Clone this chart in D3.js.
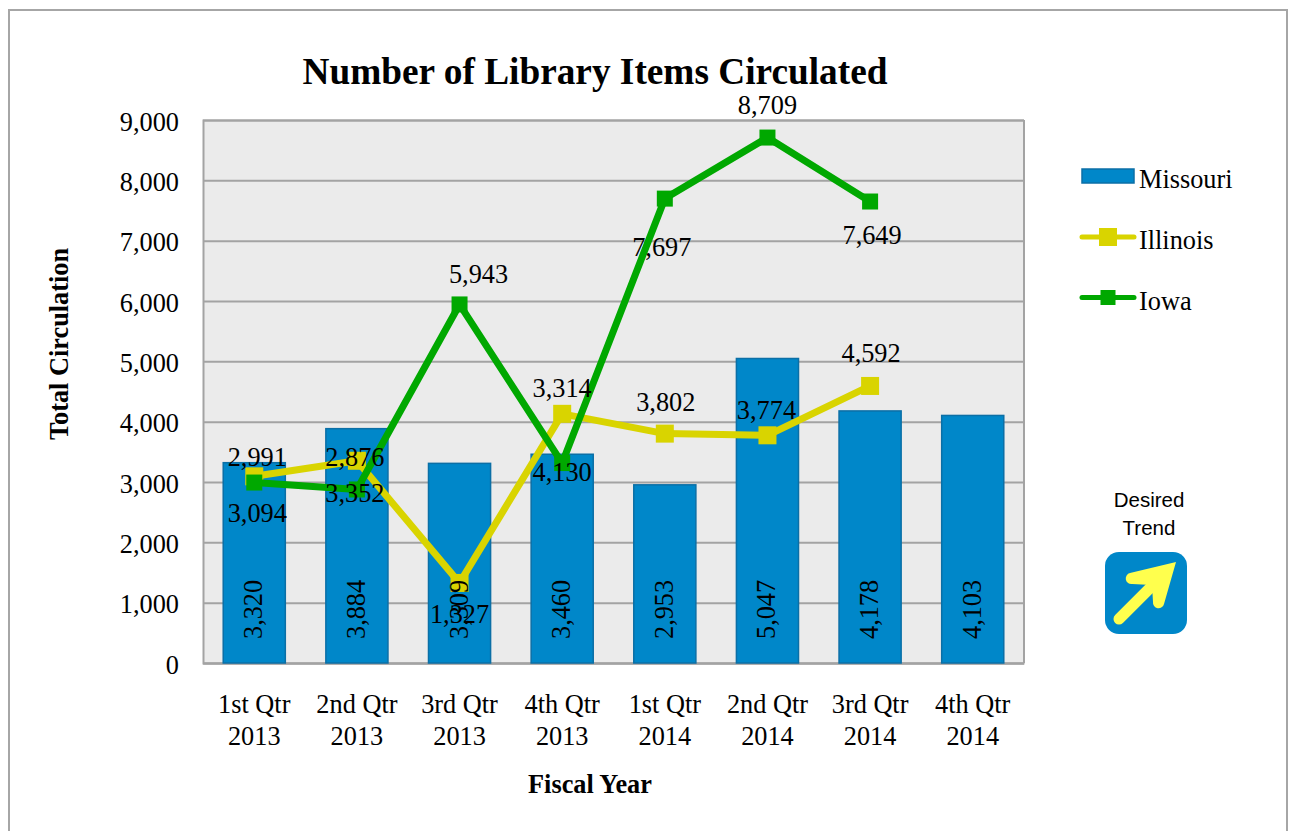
<!DOCTYPE html>
<html>
<head>
<meta charset="utf-8">
<title>Number of Library Items Circulated</title>
<script src="https://cdn.jsdelivr.net/npm/d3@7"></script>
<style>
  html, body { margin: 0; padding: 0; background: #fff; overflow: hidden; }
  svg { display: block; font-family: "Liberation Serif", serif; }
</style>
</head>
<body>
<div id="chart"></div>
<script>
// data
var quarters = ["1st Qtr 2013", "2nd Qtr 2013", "3rd Qtr 2013", "4th Qtr 2013",
                "1st Qtr 2014", "2nd Qtr 2014", "3rd Qtr 2014", "4th Qtr 2014"];
var missouri = [3320, 3884, 3309, 3460, 2953, 5047, 4178, 4103];
var illinois = [3094, 3352, 1327, 4130, 3802, 3774, 4592, null];
var iowa = [2991, 2876, 5943, 3314, 7697, 8709, 7649, null];
var yTicks = [0, 1000, 2000, 3000, 4000, 5000, 6000, 7000, 8000, 9000];

// the labels were dragged around by hand in the original, so each has its own nudge
var illinoisLabelDy = [37, 32, 31, 58, -32, -25, -33, 0];
var illinoisLabelDx = [3, -2, 0, 0, 1, -1, 1, 0];
var iowaLabelDy = [-25, -32, -30, -75, 48, -32, 34, 0];
var iowaLabelDx = [3, -2, 19, 0, -3, 0, 2, 0];

var width = 1289;
var height = 831;
var margin = { top: 120, right: 265, bottom: 168, left: 203 };
var fontSize = "26.3px";

var blue = "#0087c9";
var yellow = "#d9d400";
var green = "#00a800";
var gridGray = "#a3a3a3";
var arrowYellow = "#ffff4d";

var svg = d3.select("#chart")
  .append("svg")
  .attr("width", width)
  .attr("height", height)
  .attr("viewBox", [0, 0, width, height]);

// outer frame, bottom edge runs off the page
svg.append("rect")
  .attr("x", 9)
  .attr("y", 10)
  .attr("width", 1278)
  .attr("height", 840)
  .attr("fill", "#fff")
  .attr("stroke", "#a6a6a6")
  .attr("stroke-width", 2);

var x = d3.scaleBand()
  .domain(quarters)
  .range([margin.left, width - margin.right])
  .paddingInner(0.395)
  .paddingOuter(0.197);

var y = d3.scaleLinear()
  .domain([0, 9000])
  .range([height - margin.bottom, margin.top]);

function cx(i) { return x(quarters[i]) + x.bandwidth() / 2; }

// plot background
svg.append("rect")
  .attr("x", margin.left)
  .attr("y", margin.top)
  .attr("width", width - margin.left - margin.right)
  .attr("height", height - margin.top - margin.bottom)
  .attr("fill", "#ebebeb");

// y axis and grid
var yAxis = svg.append("g")
  .attr("transform", "translate(" + margin.left + ",0)")
  .call(d3.axisLeft(y)
    .tickValues(yTicks)
    .tickFormat(d3.format(","))
    .tickSize(-(width - margin.left - margin.right))
    .tickPadding(24));
yAxis.selectAll(".tick line").attr("stroke", gridGray).attr("stroke-width", 2);
yAxis.select(".domain").attr("stroke", gridGray).attr("stroke-width", 2);
yAxis.selectAll("text")
  .attr("fill", "#000")
  .attr("dy", "0.38em")
  .style("font-family", "Liberation Serif")
  .style("font-size", fontSize);

// right edge of the plot
svg.append("line")
  .attr("x1", width - margin.right)
  .attr("x2", width - margin.right)
  .attr("y1", margin.top)
  .attr("y2", height - margin.bottom)
  .attr("stroke", gridGray)
  .attr("stroke-width", 2);

// x axis
var xAxis = svg.append("g")
  .attr("transform", "translate(0," + (height - margin.bottom) + ")")
  .call(d3.axisBottom(x).tickSize(0));
xAxis.select(".domain").attr("stroke", gridGray).attr("stroke-width", 2);
xAxis.selectAll("text").each(function(d) {
  var parts = [d.slice(0, 7), d.slice(8)];
  var t = d3.select(this)
    .text(null)
    .attr("dy", null)
    .attr("y", null)
    .attr("fill", "#000")
    .style("font-family", "Liberation Serif")
    .style("font-size", fontSize);
  t.append("tspan").attr("x", 0).attr("y", 50).text(parts[0]);
  t.append("tspan").attr("x", 0).attr("y", 82).text(parts[1]);
});

// bars
svg.selectAll("rect.bar")
  .data(missouri)
  .enter()
  .append("rect")
  .attr("class", "bar")
  .attr("x", function(d, i) { return x(quarters[i]); })
  .attr("y", function(d) { return y(d); })
  .attr("width", x.bandwidth())
  .attr("height", function(d) { return y(0) - y(d); })
  .attr("fill", blue)
  .attr("stroke", "#0b6fa6")
  .attr("stroke-width", 1.5);

// lines
function drawSeries(values, color, markerSize) {
  var line = d3.line()
    .defined(function(d) { return d !== null; })
    .x(function(d, i) { return cx(i); })
    .y(function(d) { return y(d); });

  svg.append("path")
    .datum(values)
    .attr("fill", "none")
    .attr("stroke", color)
    .attr("stroke-width", 7)
    .attr("stroke-linejoin", "round")
    .attr("d", line);

  values.forEach(function(d, i) {
    if (d === null) return;
    svg.append("rect")
      .attr("x", cx(i) - markerSize / 2)
      .attr("y", y(d) - markerSize / 2)
      .attr("width", markerSize)
      .attr("height", markerSize)
      .attr("fill", color);
  });
}

function drawLabels(values, labelDx, labelDy) {
  values.forEach(function(d, i) {
    if (d === null) return;
    svg.append("text")
      .attr("x", cx(i) + labelDx[i])
      .attr("y", y(d) + labelDy[i])
      .attr("dy", "0.34em")
      .attr("text-anchor", "middle")
      .style("font-size", fontSize)
      .text(d3.format(",")(d));
  });
}

drawSeries(illinois, yellow, 18);
drawSeries(iowa, green, 16);

// bar labels go over the lines, same as the original
svg.selectAll("text.barLabel")
  .data(missouri)
  .enter()
  .append("text")
  .attr("class", "barLabel")
  .attr("transform", function(d, i) {
    return "translate(" + (cx(i) + 8) + ",639) rotate(-90)";
  })
  .style("font-size", fontSize)
  .text(d3.format(","));

drawLabels(illinois, illinoisLabelDx, illinoisLabelDy);
drawLabels(iowa, iowaLabelDx, iowaLabelDy);

// titles
svg.append("text")
  .attr("x", 595)
  .attr("y", 84)
  .attr("text-anchor", "middle")
  .style("font-size", "37.3px")
  .style("font-weight", "bold")
  .text("Number of Library Items Circulated");

svg.append("text")
  .attr("x", 590)
  .attr("y", 793)
  .attr("text-anchor", "middle")
  .style("font-size", fontSize)
  .style("font-weight", "bold")
  .text("Fiscal Year");

svg.append("text")
  .attr("transform", "translate(68,344) rotate(-90)")
  .attr("text-anchor", "middle")
  .style("font-size", fontSize)
  .style("font-weight", "bold")
  .text("Total Circulation");

// legend
var legend = svg.append("g");

legend.append("rect")
  .attr("x", 1082)
  .attr("y", 169)
  .attr("width", 52)
  .attr("height", 14)
  .attr("fill", blue)
  .attr("stroke", "#0b6fa6")
  .attr("stroke-width", 1.5);

[[yellow, 237, 18], [green, 297.5, 15]].forEach(function(d) {
  legend.append("line")
    .attr("x1", 1082)
    .attr("x2", 1134)
    .attr("y1", d[1])
    .attr("y2", d[1])
    .attr("stroke", d[0])
    .attr("stroke-width", 5)
    .attr("stroke-linecap", "round");
  legend.append("rect")
    .attr("x", 1108 - d[2] / 2)
    .attr("y", d[1] - d[2] / 2)
    .attr("width", d[2])
    .attr("height", d[2])
    .attr("fill", d[0]);
});

[["Missouri", 188], ["Illinois", 249], ["Iowa", 310]].forEach(function(d) {
  legend.append("text")
    .attr("x", 1139)
    .attr("y", d[1])
    .style("font-size", fontSize)
    .text(d[0]);
});

// desired trend icon
svg.selectAll("text.trend")
  .data([["Desired", 507], ["Trend", 535]])
  .enter()
  .append("text")
  .attr("class", "trend")
  .attr("x", 1149)
  .attr("y", function(d) { return d[1]; })
  .attr("text-anchor", "middle")
  .style("font-family", "Liberation Sans")
  .style("font-size", "20.5px")
  .text(function(d) { return d[0]; });

svg.append("rect")
  .attr("x", 1105)
  .attr("y", 552)
  .attr("width", 82)
  .attr("height", 82)
  .attr("rx", 14)
  .attr("fill", blue);

svg.append("line")
  .attr("x1", 1119)
  .attr("y1", 619)
  .attr("x2", 1155)
  .attr("y2", 583)
  .attr("stroke", arrowYellow)
  .attr("stroke-width", 11)
  .attr("stroke-linecap", "round");

svg.append("path")
  .attr("d", "M1176,562 L1130,573 A5.6,5.6 0 0 0 1132,584 L1152,585 L1153,602 A5.6,5.6 0 0 0 1164,604 Z")
  .attr("fill", arrowYellow);
</script>
</body>
</html>
